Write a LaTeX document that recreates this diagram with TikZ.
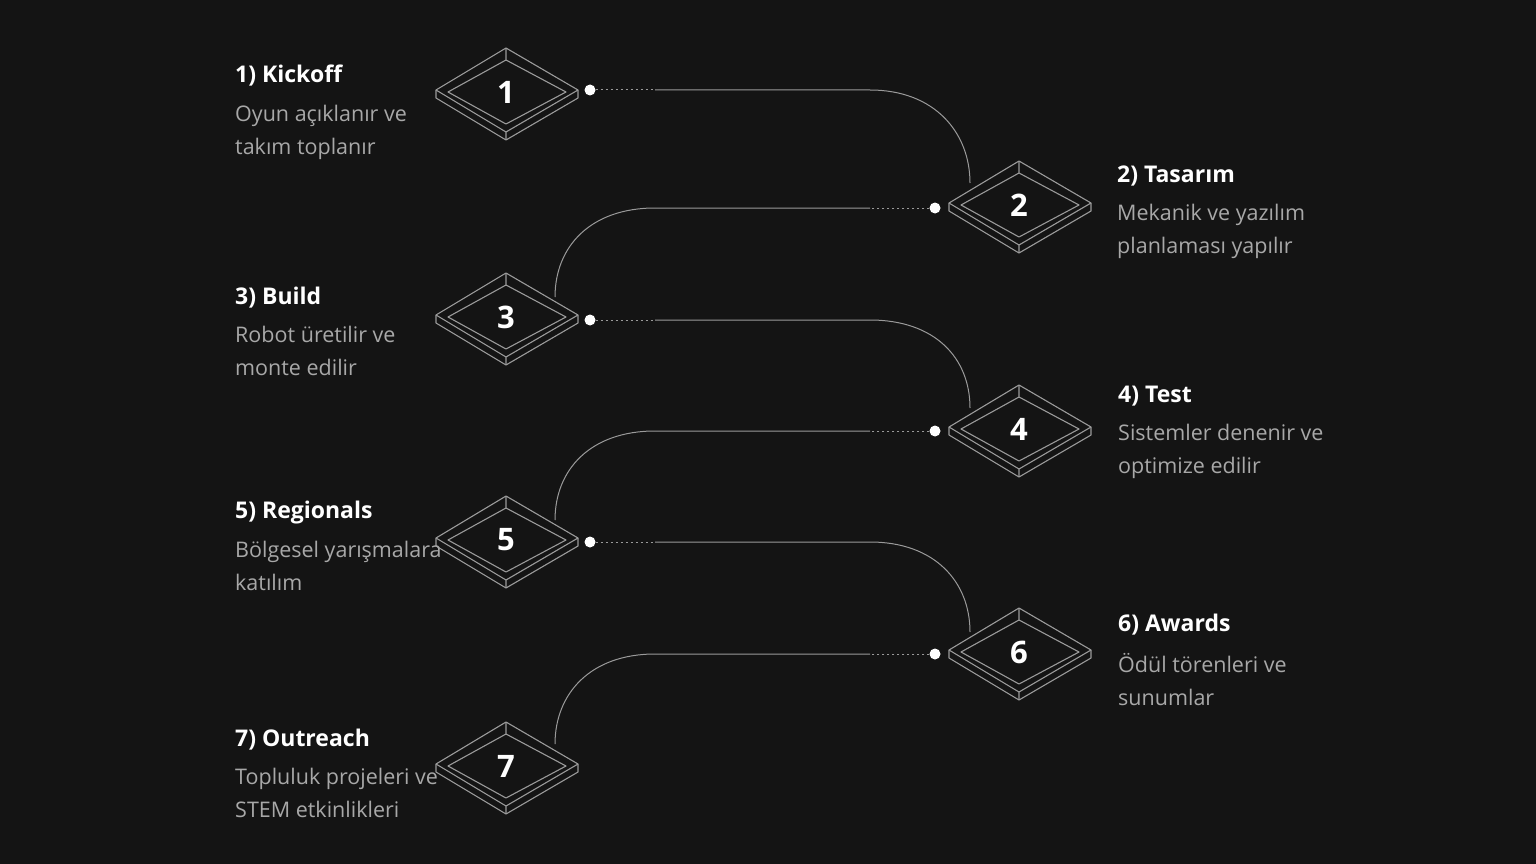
\documentclass[tikz,border=0pt]{standalone}
\usepackage{fontspec}
\setmainfont{Open Sans}
\definecolor{bgcol}{HTML}{141414}
\definecolor{linecol}{HTML}{9A9A9A}
\definecolor{desccol}{HTML}{A8A8A8}
\begin{document}
\begin{tikzpicture}[x=1pt,y=-1pt,
    tray/.style={draw=linecol, line width=1.1pt, line join=round},
    numstyle/.style={text=white, font=\fontsize{31}{31}\selectfont\bfseries},
    titlestyle/.style={anchor=west, text=white, font=\fontsize{23}{27}\selectfont\bfseries, inner sep=0},
    descstyle/.style={anchor=north west, align=left, text=desccol, font=\fontsize{21.5}{33}\selectfont, inner sep=0},
    link/.style={draw=linecol, line width=1pt},
    dotlink/.style={draw=linecol, line width=1pt, dash pattern=on 2pt off 3pt},
    dot/.style={circle, fill=white, inner sep=0, minimum size=11pt}]

    \fill[bgcol] (0,0) rectangle (1536,864);
    \useasboundingbox (0,0) rectangle (1536,864);

    % trays
    \foreach \x/\y/\n in {506/92/1, 1019/205/2, 506/317/3, 1019/429/4, 506/540/5, 1019/652/6, 506/766/7}
    {
        \begin{scope}[shift={(\x,\y)}]
            \draw[tray] (-70,-2) -- (0,-44) -- (72,-2) -- (72,6) -- (0,48) -- (-70,6) -- cycle;
            \draw[tray] (-70,-2) -- (0,40) -- (72,-2) (0,40) -- (0,48);
            \draw[tray] (-58,0) -- (0,-32) -- (60,0) -- (0,32) -- cycle (0,-44) -- (0,-32);
            \node[numstyle] (n\n) at (0,0) {\n};
        \end{scope}
    }

    % left texts
    \node[titlestyle] (t1) at (235,76) {1) Kickoff};
    \node[descstyle] (d1) at (235,105) {Oyun açıklanır ve\\takım toplanır};
    \node[titlestyle] (t3) at (235,298) {3) Build};
    \node[descstyle] (d3) at (235,326) {Robot üretilir ve\\monte edilir};
    \node[titlestyle] (t5) at (235,513) {5) Regionals};
    \node[descstyle] (d5) at (235,541) {Bölgesel yarışmalara\\katılım};
    \node[titlestyle] (t7) at (235,740) {7) Outreach};
    \node[descstyle] (d7) at (235,768) {Topluluk projeleri ve\\STEM etkinlikleri};

    % right texts
    \node[titlestyle] (t2) at (1117,176) {2) Tasarım};
    \node[descstyle] (d2) at (1117,204) {Mekanik ve yazılım\\planlaması yapılır};
    \node[titlestyle] (t4) at (1118,396) {4) Test};
    \node[descstyle] (d4) at (1118,424) {Sistemler denenir ve\\optimize edilir};
    \node[titlestyle] (t6) at (1118,625) {6) Awards};
    \node[descstyle] (d6) at (1118,653) {Ödül törenleri ve\\sunumlar};

    % links left -> right
    \foreach \a/\b/\ya/\yb in {1/2/90/183, 3/4/320/408, 5/6/542/632}
    {
        \node[dot] (s\a) at (590,\ya) {};
        \coordinate (m\a) at (655,\ya);
        \coordinate (k\a) at (870,\ya);
        \coordinate (e\a) at (970,\yb);
        \draw[dotlink] (s\a) -- (m\a);
        \draw[link] (m\a) -- (k\a) .. controls +(65,0) and +(0,-50) .. (e\a);
    }

    % links right -> left
    \foreach \a/\b/\ya/\yb in {2/3/208/297, 4/5/431/520, 6/7/654/744}
    {
        \node[dot] (s\a) at (935,\ya) {};
        \coordinate (m\a) at (870,\ya);
        \coordinate (k\a) at (655,\ya);
        \coordinate (e\a) at (555,\yb);
        \draw[dotlink] (s\a) -- (m\a);
        \draw[link] (m\a) -- (k\a) .. controls +(-65,0) and +(0,-50) .. (e\a);
    }

\end{tikzpicture}
\end{document}
